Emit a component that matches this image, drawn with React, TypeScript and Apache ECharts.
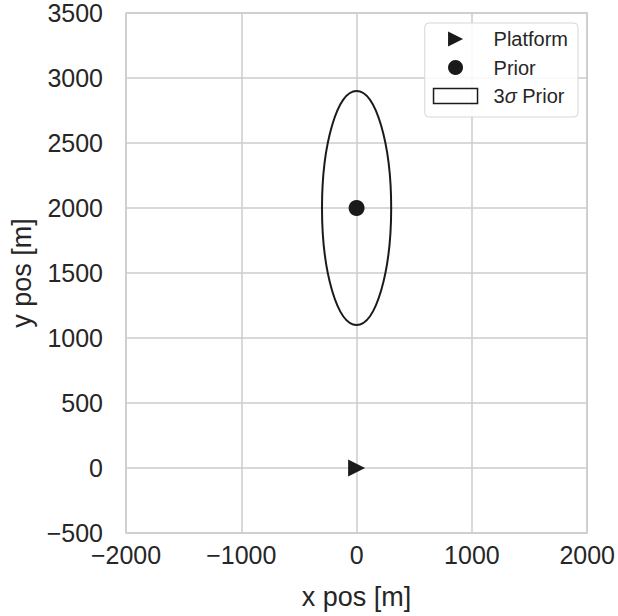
import React, { useEffect, useRef } from "react";
import * as echarts from "echarts";

const xTicks = { min: -2000, max: 2000, interval: 1000 };
const yTicks = { min: -500, max: 3500, interval: 500 };
const platform: [number, number][] = [[0, 0]];
const prior: [number, number][] = [[0, 2000]];
// center x, center y, 3-sigma semi-axis x, 3-sigma semi-axis y
const priorEllipse: [number, number, number, number][] = [[0, 2000, 300, 900]];
const seriesNames = ["Platform", "Prior", "3σ Prior"];

const INK = "#1a1a1a";
const TXT = "#262626";
const GRID = "#cccccc";
const FONT = "Liberation Sans, Arial, sans-serif";

const fmt = (v: number) => String(v).replace("-", "\u2212");

export default function App() {
  const ref = useRef<HTMLDivElement>(null);
  useEffect(() => {
    if (!ref.current) return;
    const chart = echarts.init(ref.current, null, { renderer: "svg" });
    chart.setOption({
      animation: false,
      backgroundColor: "#ffffff",
      textStyle: { fontFamily: FONT },
      grid: {
        left: 123,
        right: 29,
        top: 13,
        bottom: 83,
        show: true,
        borderColor: GRID,
        borderWidth: 1.5,
        backgroundColor: "#ffffff",
      },
      xAxis: {
        type: "value",
        min: xTicks.min,
        max: xTicks.max,
        interval: xTicks.interval,
        name: "x pos [m]",
        nameLocation: "middle",
        nameGap: 50,
        nameTextStyle: { fontSize: 27, color: TXT, fontFamily: FONT },
        axisLine: { show: false },
        axisTick: { show: false },
        axisLabel: { fontSize: 25, color: TXT, margin: 9, formatter: fmt, fontFamily: FONT },
        splitLine: { show: true, lineStyle: { color: GRID, width: 1.5 } },
      },
      yAxis: {
        type: "value",
        min: yTicks.min,
        max: yTicks.max,
        interval: yTicks.interval,
        name: "y pos [m]",
        nameLocation: "middle",
        nameGap: 91,
        nameTextStyle: { fontSize: 27, color: TXT, fontFamily: FONT },
        axisLine: { show: false },
        axisTick: { show: false },
        axisLabel: { fontSize: 25, color: TXT, margin: 23, formatter: fmt, fontFamily: FONT },
        splitLine: { show: true, lineStyle: { color: GRID, width: 1.5 } },
      },
      legend: {
        orient: "vertical",
        right: 40,
        top: 23,
        padding: [5, 10, 10, 8],
        itemWidth: 44,
        itemHeight: 15,
        itemGap: 6.5,
        backgroundColor: "rgba(255,255,255,0.85)",
        borderColor: "#d6d6d6",
        borderWidth: 1,
        borderRadius: 4,
        selectedMode: false,
        itemStyle: { opacity: 1 },
        formatter: (name: string) => (name === "3σ Prior" ? "3{i|σ} Prior" : name),
        textStyle: {
          fontSize: 20,
          color: TXT,
          fontFamily: FONT,
          lineHeight: 22,
          padding: [0, 0, 0, 11],
          rich: {
            i: { fontSize: 20, fontStyle: "italic", color: TXT, fontFamily: FONT, lineHeight: 22 },
          },
        },
        data: [
          { name: seriesNames[0], icon: "path://M0,0L10,5L0,10Z", itemStyle: { color: INK, opacity: 1 } },
          { name: seriesNames[1], icon: "circle", itemStyle: { color: INK, opacity: 1 } },
          {
            name: seriesNames[2],
            icon: "rect",
            itemStyle: { color: "rgba(0,0,0,0)", borderColor: INK, borderWidth: 1.5, opacity: 1 },
          },
        ],
      },
      series: [
        {
          name: seriesNames[2],
          type: "custom",
          data: priorEllipse,
          z: 2,
          itemStyle: { color: "rgba(0,0,0,0)", borderColor: INK, borderWidth: 1.5 },
          renderItem: (params: any, api: any) => {
            const cx = api.value(0);
            const cy = api.value(1);
            const ax = api.value(2);
            const ay = api.value(3);
            const c = api.coord([cx, cy]);
            const e = api.coord([cx + ax, cy + ay]);
            return {
              type: "ellipse",
              shape: { cx: c[0], cy: c[1], rx: Math.abs(e[0] - c[0]), ry: Math.abs(e[1] - c[1]) },
              style: { fill: "none", stroke: INK, lineWidth: 2 },
            };
          },
        },
        {
          name: seriesNames[0],
          type: "scatter",
          data: platform,
          symbol: "path://M0,0L10,5L0,10Z",
          symbolSize: 17,
          itemStyle: { color: INK, opacity: 1 },
          z: 3,
        },
        {
          name: seriesNames[1],
          type: "scatter",
          data: prior,
          symbol: "circle",
          symbolSize: 16,
          itemStyle: { color: INK, opacity: 1 },
          z: 3,
        },
      ],
    });
    return () => chart.dispose();
  }, []);
  return (
    <div
      ref={ref}
      style={{ position: "fixed", left: 0, top: 0, width: 618, height: 616, background: "#fff" }}
    />
  );
}
